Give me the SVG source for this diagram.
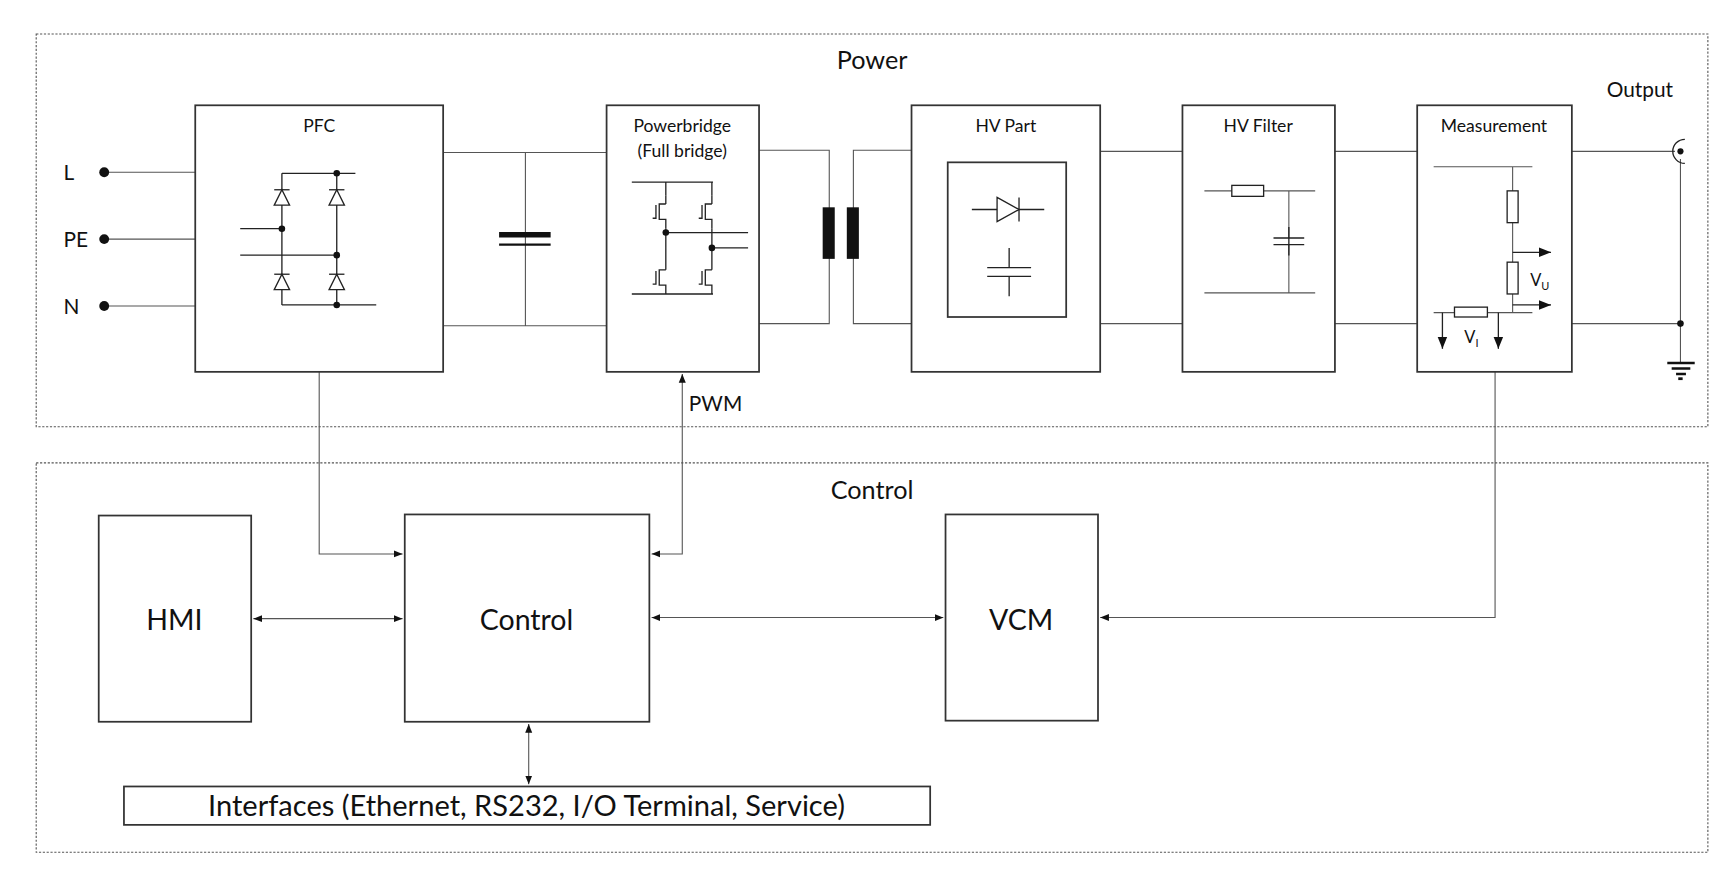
<svg xmlns="http://www.w3.org/2000/svg" width="1720" height="880" viewBox="0 0 1720 880">
<style>
.t{font-family:Lato,"Liberation Sans",sans-serif;fill:#111}
.box{fill:#fff;stroke:#333;stroke-width:1.6}
.ln{fill:none;stroke:#555;stroke-width:1}
.dk{fill:none;stroke:#222;stroke-width:1.2}
.grp{fill:none;stroke:#555;stroke-width:1;stroke-dasharray:2 1.5}
</style>
<defs>
<marker id="a" viewBox="0 0 10 10" refX="10" refY="5" markerWidth="8" markerHeight="8" orient="auto-start-reverse" markerUnits="userSpaceOnUse"><path d="M0,1L10,5L0,9z" fill="#111"/></marker>
<marker id="b" viewBox="0 0 10 10" refX="10" refY="5" markerWidth="11" markerHeight="11" orient="auto" markerUnits="userSpaceOnUse"><path d="M0,1L10,5L0,9z" fill="#111"/></marker>
<g id="igbt"><path d="M0,0V8M0,8H-6V22H0V30M-9,9V21H-12" class="dk"/></g>
<g id="dio"><path d="M-7,14H7L0,0z" fill="#fff" stroke="#222" stroke-width="1.2"/><path d="M-7,0H7" stroke="#222" stroke-width="1.2"/></g>
</defs>
<g transform="scale(1.0969)">
<g id="power-group"><rect class="grp" x="33" y="31" width="1524" height="358"/><text class="t" x="795" y="63" font-size="23" text-anchor="middle">Power</text></g>
<g id="control-group"><rect class="grp" x="33" y="422" width="1524" height="355"/><text class="t" x="795" y="455" font-size="23" text-anchor="middle">Control</text></g>

<g id="connectors">
<path class="ln" d="M95,157H178M95,218H178M95,279H178"/>
<path class="ln" d="M404,139H553M404,297H553M479,139V297"/>
<path class="ln" d="M692,137H756V295H692M831,137H778V295H831"/>
<path class="ln" d="M1003,138H1078M1003,295H1078M1217,138H1292M1217,295H1292"/>
<path class="ln" d="M1433,138H1527M1433,295H1532M1532,145V330"/>
<path class="ln" d="M291,339V505H367" marker-end="url(#a)"/>
<path class="ln" d="M594,505H622V341" marker-start="url(#a)" marker-end="url(#a)"/>
<path class="ln" d="M1363,339V563H1003" marker-end="url(#a)"/>
<path class="ln" d="M231,564H367" marker-start="url(#a)" marker-end="url(#a)"/>
<path class="ln" d="M594,563H860" marker-start="url(#a)" marker-end="url(#a)"/>
<path class="ln" d="M482,660V715" marker-start="url(#a)" marker-end="url(#a)"/>
<text class="t" x="628" y="375" font-size="19">PWM</text>
</g>

<g id="inputs">
<circle cx="95" cy="157" r="4.5" fill="#111"/><circle cx="95" cy="218" r="4.5" fill="#111"/><circle cx="95" cy="279" r="4.5" fill="#111"/>
<text class="t" x="58" y="164" font-size="19">L</text><text class="t" x="58" y="225" font-size="19">PE</text><text class="t" x="58" y="286" font-size="19">N</text>
</g>

<g id="pfc"><rect class="box" x="178" y="96" width="226" height="243"/><text class="t" x="291" y="120" font-size="16" text-anchor="middle">PFC</text>
<path class="dk" d="M257,158V278M307,158V278M257,158H324M257,278H343M219,208.5H257M219,232.6H307"/>
<use href="#dio" x="257" y="173"/><use href="#dio" x="307" y="173"/><use href="#dio" x="257" y="250"/><use href="#dio" x="307" y="250"/>
<circle cx="307" cy="158" r="3" fill="#111"/><circle cx="307" cy="278" r="3" fill="#111"/><circle cx="257" cy="208.5" r="3" fill="#111"/><circle cx="307" cy="232.6" r="3" fill="#111"/>
</g>

<g id="dc-cap"><path d="M455,214H502" stroke="#111" stroke-width="5"/><path d="M455,223H502" stroke="#111" stroke-width="2"/></g>

<g id="powerbridge"><rect class="box" x="553" y="96" width="139" height="243"/>
<text class="t" x="622" y="120" font-size="16" text-anchor="middle">Powerbridge</text><text class="t" x="622" y="143" font-size="16" text-anchor="middle">(Full bridge)</text>
<path class="dk" d="M576,166H650M576,268H650M607,166V178M607,208V238M649,166V178M649,208V238M607,212H682M649,226H682"/>
<use href="#igbt" x="607" y="178"/><use href="#igbt" x="649" y="178"/><use href="#igbt" x="607" y="238"/><use href="#igbt" x="649" y="238"/>
<circle cx="607" cy="212" r="3" fill="#111"/><circle cx="649" cy="226" r="3" fill="#111"/>
</g>

<g id="transformer"><rect x="750" y="189" width="11" height="47" fill="#111"/><rect x="772" y="189" width="11" height="47" fill="#111"/></g>

<g id="hv-part"><rect class="box" x="831" y="96" width="172" height="243"/><text class="t" x="917" y="120" font-size="16" text-anchor="middle">HV Part</text>
<rect class="box" x="864" y="148" width="108" height="141"/>
<path class="dk" d="M886,191H952M929,180V202M920,226V244M920,252V270M900,244H940M900,252H940"/><path d="M909,180L929,191L909,202z" fill="#fff" stroke="#222" stroke-width="1.2"/>
</g>

<g id="hv-filter"><rect class="box" x="1078" y="96" width="139" height="243"/><text class="t" x="1147" y="120" font-size="16" text-anchor="middle">HV Filter</text>
<path class="ln" d="M1098,174H1199M1175,174V217M1175,223V267M1098,267H1199"/><rect x="1123" y="169" width="29" height="10" fill="#fff" stroke="#222" stroke-width="1.2"/>
<path class="dk" d="M1161,217H1189M1161,223H1189M1175,207V233"/>
</g>

<g id="measurement"><rect class="box" x="1292" y="96" width="141" height="243"/><text class="t" x="1362" y="120" font-size="16" text-anchor="middle">Measurement</text>
<path class="ln" d="M1307,152H1397M1379,152V285M1307,285H1397"/>
<rect x="1374" y="174" width="10" height="29" fill="#fff" stroke="#222" stroke-width="1.2"/><rect x="1374" y="239" width="10" height="29" fill="#fff" stroke="#222" stroke-width="1.2"/>
<rect x="1326" y="280" width="30" height="9" fill="#fff" stroke="#222" stroke-width="1.2"/>
<path class="dk" d="M1379,230H1414" marker-end="url(#b)"/><path class="dk" d="M1379,278H1414" marker-end="url(#b)"/>
<path class="dk" d="M1315,285V318" marker-end="url(#b)"/><path class="dk" d="M1366,285V318" marker-end="url(#b)"/>
<text class="t" x="1395" y="261" font-size="15">V<tspan font-size="10" dy="3">U</tspan></text>
<text class="t" x="1335" y="313" font-size="15">V<tspan font-size="10" dy="3">I</tspan></text>
</g>

<g id="output"><text class="t" x="1495" y="88" font-size="19" text-anchor="middle">Output</text>
<path d="M1536,127A11,11 0 0 0 1536,149" class="dk"/><circle cx="1532" cy="138" r="2.8" fill="#111"/><circle cx="1532" cy="295" r="3" fill="#111"/>
<path d="M1520,331H1545M1524,336H1541M1528,341H1537" stroke="#111" stroke-width="2.2"/><rect x="1530" y="344" width="4" height="2.5" fill="#111"/>
</g>

<g id="hmi"><rect class="box" x="90" y="470" width="139" height="188"/><text class="t" x="159" y="574" font-size="26" text-anchor="middle">HMI</text></g>
<g id="control"><rect class="box" x="369" y="469" width="223" height="189"/><text class="t" x="480" y="574" font-size="26" text-anchor="middle">Control</text></g>
<g id="vcm"><rect class="box" x="862" y="469" width="139" height="188"/><text class="t" x="931" y="574" font-size="26" text-anchor="middle">VCM</text></g>
<g id="interfaces"><rect class="box" x="113" y="717" width="735" height="35"/><text class="t" x="480" y="744" font-size="26.5" text-anchor="middle">Interfaces (Ethernet, RS232, I/O Terminal, Service)</text></g>
</g>
</svg>
